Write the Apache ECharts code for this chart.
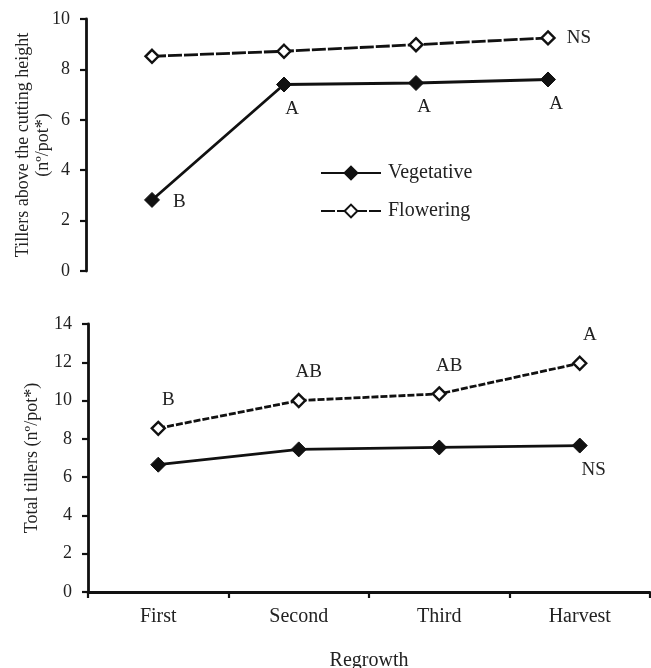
<!DOCTYPE html>
<html><head><meta charset="utf-8">
<script src="https://cdn.jsdelivr.net/npm/echarts@6/dist/echarts.min.js"></script>
<style>html,body{margin:0;padding:0;background:#fff}#c{width:651px;height:668px}</style>
</head><body><div id="c"></div>
<script>
const categories = ['First', 'Second', 'Third', 'Harvest'];
const topVegetative = [2.82, 7.4, 7.46, 7.6];
const topFlowering = [8.52, 8.72, 8.98, 9.25];
const topVegLetters = ['B', 'A', 'A', 'A'];
const topFlowLetters = ['', '', '', 'NS'];
const botVegetative = [6.65, 7.45, 7.55, 7.65];
const botFlowering = [8.55, 10.0, 10.35, 11.95];
const botVegLetters = ['', '', '', 'NS'];
const botFlowLetters = ['B', 'AB', 'AB', 'A'];
const topYTicks = [0, 2, 4, 6, 8, 10];
const botYTicks = [0, 2, 4, 6, 8, 10, 12, 14];

const FONT = '"Liberation Serif", "DejaVu Serif", serif';
const txt = {fontFamily: FONT, fontSize: 19, color: '#222'};

function withLabels(vals, letters, pos, offset) {
  return vals.map((v, i) => ({
    value: v,
    label: {show: !!letters[i], formatter: letters[i], position: pos, offset: offset, ...txt}
  }));
}

const vegStyle = (gi) => ({
  type: 'line', name: 'Vegetative', xAxisIndex: gi, yAxisIndex: gi,
  symbol: 'diamond', symbolSize: 15,
  itemStyle: {color: '#111', borderColor: '#111', borderWidth: 1},
  lineStyle: {color: '#111', width: 2.8},
  emphasis: {disabled: true}, z: 3
});
const flowStyle = (gi, dash) => ({
  type: 'line', name: 'Flowering', xAxisIndex: gi, yAxisIndex: gi,
  symbol: 'diamond', symbolSize: 13,
  itemStyle: {color: '#fff', borderColor: '#111', borderWidth: 2.4},
  lineStyle: {color: '#111', width: 2.8, type: dash},
  emphasis: {disabled: true}, z: 4
});

const yAxisCommon = (ticks) => ({
  type: 'value', min: ticks[0], max: ticks[ticks.length - 1], interval: ticks[1] - ticks[0],
  splitLine: {show: false},
  axisLine: {show: true, lineStyle: {color: '#111', width: 2.8}},
  axisTick: {show: true, inside: false, length: 6, lineStyle: {color: '#111', width: 2.2}},
  axisLabel: {margin: 16, fontFamily: FONT, fontSize: 18, color: '#222'},
  nameLocation: 'middle', nameRotate: 90, nameMoveOverlap: false,
  nameTextStyle: {fontFamily: FONT, fontSize: 18, color: '#222', lineHeight: 20}
});

const option = {
  animation: false,
  backgroundColor: '#fff',
  textStyle: {fontFamily: FONT},
  grid: [
    {left: 86, width: 528, top: 19, height: 252, containLabel: false, outerBoundsMode: 'none'},
    {left: 88, right: 1, top: 324, height: 268, containLabel: false, outerBoundsMode: 'none'}
  ],
  legend: {
    data: ['Vegetative', 'Flowering'],
    orient: 'vertical', left: 320, top: 163, padding: 0,
    itemWidth: 60, itemHeight: 16, itemGap: 18,
    textStyle: {fontFamily: FONT, fontSize: 20, color: '#222', padding: [0, 0, 0, 2]},
    selectedMode: false
  },
  xAxis: [
    {type: 'category', gridIndex: 0, data: categories, boundaryGap: true, show: false},
    {type: 'category', gridIndex: 1, data: categories, boundaryGap: true,
     axisLine: {show: true, lineStyle: {color: '#111', width: 2.8}},
     axisTick: {show: true, length: 6, lineStyle: {color: '#111', width: 2.2}},
     axisLabel: {margin: 15, fontFamily: FONT, fontSize: 20, color: '#222'},
     name: 'Regrowth', nameLocation: 'middle', nameGap: 59, nameMoveOverlap: false,
     nameTextStyle: {fontFamily: FONT, fontSize: 20, color: '#222'}}
  ],
  yAxis: [
    {...yAxisCommon(topYTicks), gridIndex: 0,
     name: 'Tillers above the cutting height\n(nº/pot*)', nameGap: 33},
    {...yAxisCommon(botYTicks), gridIndex: 1,
     name: 'Total tillers (nº/pot*)', nameGap: 46}
  ],
  series: [
    {...vegStyle(0), data: withLabels(topVegetative, topVegLetters, 'bottom', [8, 2])},
    {...flowStyle(0, [14, 2]), data: withLabels(topFlowering, topFlowLetters, 'right', [6, 0])},
    {...vegStyle(1), data: withLabels(botVegetative, botVegLetters, 'bottom', [14, 2])},
    {...flowStyle(1, [7, 2]), data: withLabels(botFlowering, botFlowLetters, 'top', [10, -6])}
  ]
};
// custom per-point label tweaks
option.series[0].data[0].label.position = 'right';
option.series[0].data[0].label.offset = [8, 2];

function draw() {
  const chart = echarts.init(document.getElementById('c'), null, {renderer: 'canvas'});
  chart.setOption(option);
}
if (document.fonts && document.fonts.load) {
  document.fonts.load('18px "Liberation Serif"').then(draw, draw);
} else {
  draw();
}
</script></body></html>
